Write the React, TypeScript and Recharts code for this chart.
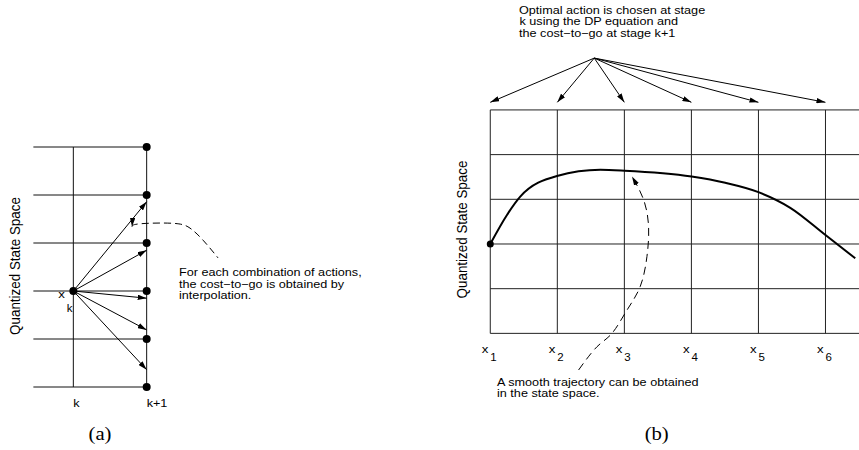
import React from 'react';
import { ComposedChart, Line, Scatter, XAxis, YAxis } from 'recharts';

// ---------- Panel (a): one stage transition ----------
const stateLevelsA = [0, 1, 2, 3, 4, 5];
const stagesA = [0, 1];
const stageLabelsA = ['k', 'k+1'];
const gridLeftA = -0.545;
const originA = { x: 0, y: 2 };
const actionTargetsA = [3.86, 2.85, 1.85, 1.19, 0.36];
const calloutA = [
  { x: 0.8, y: 3.34 },
  { x: 0.909, y: 3.4 },
  { x: 1.359, y: 3.41 },
  { x: 1.591, y: 3.31 },
  { x: 1.768, y: 3.06 },
  { x: 1.973, y: 2.69 },
];

// ---------- Panel (b): trajectory over the grid ----------
const stateLevelsB = [0, 1, 2, 3, 4, 5];
const stagesB = [1, 2, 3, 4, 5, 6];
const stageLabelsB = ['1', '2', '3', '4', '5', '6'];
const gridRightB = 6.5;
const trajectoryB = [
  { x: 1, y: 2.0 },
  { x: 1.249, y: 2.65 },
  { x: 1.447, y: 3.06 },
  { x: 1.995, y: 3.52 },
  { x: 2.641, y: 3.66 },
  { x: 3.003, y: 3.64 },
  { x: 4.003, y: 3.51 },
  { x: 4.505, y: 3.37 },
  { x: 5.0, y: 3.16 },
  { x: 5.475, y: 2.81 },
  { x: 6.0, y: 2.2 },
  { x: 6.444, y: 1.68 },
];
const calloutB = [
  { x: 2.317, y: -0.82 },
  { x: 2.591, y: -0.3 },
  { x: 2.815, y: 0.0 },
  { x: 3.039, y: 0.52 },
  { x: 3.237, y: 1.05 },
  { x: 3.337, y: 1.72 },
  { x: 3.361, y: 2.39 },
  { x: 3.287, y: 2.99 },
  { x: 3.114, y: 3.51 },
];
const actionSourceB = { x: 2.551, y: 6.16 };
const actionTipLevelB = 5.17;

// ---------- derived series ----------
const hLinesA = stateLevelsA.map((s) => [
  { x: gridLeftA, y: s },
  { x: stagesA[1], y: s },
]);
const vLinesA = stagesA.map((k) => [
  { x: k, y: stateLevelsA[0] },
  { x: k, y: stateLevelsA[stateLevelsA.length - 1] },
]);
const arrowsA = actionTargetsA.map((t) => [
  { x: originA.x, y: originA.y },
  { x: stagesA[1], y: t },
]);
const dotsA = [...stateLevelsA.map((s) => ({ x: stagesA[1], y: s })), originA];
const ticksA = stagesA.map((k, i) => ({ x: k, y: stateLevelsA[0], label: stageLabelsA[i] }));

const hLinesB = stateLevelsB.map((s) => [
  { x: stagesB[0], y: s },
  { x: gridRightB, y: s },
]);
const vLinesB = stagesB.map((k) => [
  { x: k, y: stateLevelsB[0] },
  { x: k, y: stateLevelsB[stateLevelsB.length - 1] },
]);
const arrowsB = stagesB.map((k) => [
  { x: actionSourceB.x, y: actionSourceB.y },
  { x: k, y: actionTipLevelB },
]);
const dotsB = [trajectoryB[0]];
const ticksB = stagesB.map((k, i) => ({ x: k, y: stateLevelsB[0], label: stageLabelsB[i] }));

const SANS = '"Liberation Sans", Arial, Helvetica, sans-serif';
const SERIF = '"Liberation Serif", "Times New Roman", serif';
const SX = 1.15;
const FS = 11;

const T = ({
  x,
  y,
  size = FS,
  anchor = 'start',
  rotate = false,
  family = SANS,
  children,
}: any) => (
  <text
    transform={`translate(${x},${y}) scale(${SX},1)${rotate ? ' rotate(-90)' : ''}`}
    fontSize={size}
    fontFamily={family}
    textAnchor={anchor}
    fill="#000"
  >
    {children}
  </text>
);

const common = {
  dataKey: 'y',
  dot: false,
  activeDot: false,
  isAnimationActive: false,
  legendType: 'none' as const,
};

const tickShapeA = (p: any) => (
  <T x={p.cx} y={407} size={11}>
    {p.payload.label}
  </T>
);

const tickShapeB = (p: any) => (
  <g>
    <T x={p.cx - 8.5} y={352.7} size={11.5}>
      x
    </T>
    <T x={p.cx} y={360.7} size={10}>
      {p.payload.label}
    </T>
  </g>
);

const dotShape = (r: number) => (p: any) => <circle cx={p.cx} cy={p.cy} r={r} fill="#000" />;

export default function App() {
  return (
    <div style={{ position: 'absolute', left: 0, top: 0, width: 859, height: 450, background: '#fff' }}>
      <div style={{ position: 'absolute', left: 0, top: 0 }}>
        <ComposedChart width={440} height={450} margin={{ top: 3, right: 0, bottom: 3, left: 0 }}>
          <XAxis type="number" dataKey="x" domain={[-1, 5]} allowDataOverflow hide />
          <YAxis type="number" dataKey="y" domain={[-1.25, 8]} allowDataOverflow hide />
          {hLinesA.map((d, i) => (
            <Line key={`ha${i}`} {...common} data={d} stroke="#111" strokeWidth={1} />
          ))}
          {vLinesA.map((d, i) => (
            <Line key={`va${i}`} {...common} data={d} stroke="#111" strokeWidth={1} />
          ))}
          {arrowsA.map((d, i) => (
            <Line key={`aa${i}`} {...common} data={d} stroke="#000" strokeWidth={1} markerEnd="url(#arrowHead)" />
          ))}
          <Line
            {...common}
            data={calloutA}
            type="natural"
            stroke="#000"
            strokeWidth={1}
            strokeDasharray="7 4"
            markerStart="url(#arrowHeadRev)"
          />
          <Scatter data={dotsA} dataKey="y" shape={dotShape(4)} isAnimationActive={false} />
          <Scatter data={ticksA} dataKey="y" shape={tickShapeA} isAnimationActive={false} />
        </ComposedChart>
      </div>
      <div style={{ position: 'absolute', left: 440, top: 0 }}>
        <ComposedChart width={419} height={450} margin={{ top: 0, right: 0, bottom: 0, left: 0 }}>
          <XAxis type="number" dataKey="x" domain={[0.25, 6.5]} allowDataOverflow hide />
          <YAxis type="number" dataKey="y" domain={[-2.61, 7.46]} allowDataOverflow hide />
          {hLinesB.map((d, i) => (
            <Line key={`hb${i}`} {...common} data={d} stroke="#222" strokeWidth={1} />
          ))}
          {vLinesB.map((d, i) => (
            <Line key={`vb${i}`} {...common} data={d} stroke="#222" strokeWidth={1} />
          ))}
          {arrowsB.map((d, i) => (
            <Line key={`ab${i}`} {...common} data={d} stroke="#000" strokeWidth={1} markerEnd="url(#arrowHead)" />
          ))}
          <Line {...common} data={trajectoryB} type="monotone" stroke="#000" strokeWidth={2} />
          <Line
            {...common}
            data={calloutB}
            type="natural"
            stroke="#000"
            strokeWidth={1}
            strokeDasharray="8 5"
            markerEnd="url(#arrowHead)"
          />
          <Scatter data={dotsB} dataKey="y" shape={dotShape(3.5)} isAnimationActive={false} />
          <Scatter data={ticksB} dataKey="y" shape={tickShapeB} isAnimationActive={false} />
        </ComposedChart>
      </div>
      <svg
        width={859}
        height={450}
        style={{ position: 'absolute', left: 0, top: 0, pointerEvents: 'none', overflow: 'visible' }}
      >
        <defs>
          <marker
            id="arrowHead"
            viewBox="0 0 10 6"
            refX={10}
            refY={3}
            markerWidth={9}
            markerHeight={5.5}
            markerUnits="userSpaceOnUse"
            orient="auto"
          >
            <path d="M0,0 L10,3 L0,6 Z" fill="#000" />
          </marker>
          <marker
            id="arrowHeadRev"
            viewBox="0 0 10 6"
            refX={10}
            refY={3}
            markerWidth={9}
            markerHeight={5.5}
            markerUnits="userSpaceOnUse"
            orient="auto-start-reverse"
          >
            <path d="M0,0 L10,3 L0,6 Z" fill="#000" />
          </marker>
        </defs>
        {/* panel (a) texts */}
        <T x={19.5} y={266} size={13.4} anchor="middle" rotate>
          Quantized State Space
        </T>
        <T x={58.3} y={298} size={11.5}>
          x
        </T>
        <T x={66.7} y={312} size={10}>
          k
        </T>
        <T x={179} y={276}>For each combination of actions,</T>
        <T x={179} y={287.5}>the cost−to−go is obtained by</T>
        <T x={179} y={299}>interpolation.</T>
        <T x={100} y={440} size={18} anchor="middle" family={SERIF}>
          (a)
        </T>
        {/* panel (b) texts */}
        <T x={519} y={14}>Optimal action is chosen at stage</T>
        <T x={519.5} y={25.3}>k using the DP equation and</T>
        <T x={519} y={36.6}>the cost−to−go at stage k+1</T>
        <T x={466.5} y={229.5} size={13.4} anchor="middle" rotate>
          Quantized State Space
        </T>
        <T x={497} y={385.5}>A smooth trajectory can be obtained</T>
        <T x={497} y={397}>in the state space.</T>
        <T x={656.7} y={440} size={18} anchor="middle" family={SERIF}>
          (b)
        </T>
      </svg>
    </div>
  );
}
